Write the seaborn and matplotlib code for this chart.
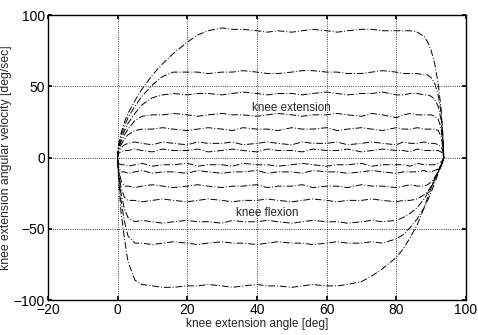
import numpy as np
import pandas as pd
import matplotlib
matplotlib.use("Agg")
import matplotlib.pyplot as plt
import seaborn as sns

# shared knee angle grid [deg], 0 -> full extension (~93.6)
angle = [0, 0.3, 1, 2, 3, 5, 7, 10, 13, 16, 20, 23, 26, 30, 33, 36, 40, 43, 46, 50,
         53, 56, 60, 63, 66, 70, 73, 76, 80, 82, 84, 86, 88, 89, 90, 91, 92, 92.8, 93.3, 93.6]

# extension phase velocities [deg/sec]
ext_90 = [0, 9, 17, 25, 31, 40, 48, 58, 66, 73, 81, 86, 89, 91, 90, 90, 89, 88, 89, 88,
          89, 90, 89, 88, 89, 90, 90, 89, 89, 89, 89, 88, 85, 81, 75, 66, 52, 35, 18, 0]
ext_60 = [0, 8, 15, 22, 28, 36, 43, 51, 57, 60, 60, 60, 59, 60, 60, 61, 60, 59, 59, 60,
          61, 61, 60, 60, 59, 59, 60, 61, 60, 59, 59, 59, 58, 58, 56, 52, 44, 32, 17, 0]
ext_45 = [0, 7, 13, 19, 24, 31, 37, 42, 44, 45, 44, 45, 45, 44, 45, 46, 45, 44, 45, 45,
          44, 45, 46, 45, 44, 45, 45, 46, 44, 44, 45, 45, 44, 44, 43, 41, 36, 27, 14, 0]
ext_30 = [0, 6, 11, 16, 20, 26, 29, 30, 30, 31, 30, 29, 30, 31, 30, 30, 29, 30, 31, 30,
          29, 30, 30, 31, 30, 29, 31, 30, 28, 30, 31, 30, 30, 30, 30, 29, 27, 21, 11, 0]
ext_20 = [0, 5, 9, 13, 16, 19, 20, 20, 21, 20, 19, 20, 21, 20, 19, 21, 20, 20, 19, 21,
          20, 20, 21, 19, 20, 21, 20, 19, 21, 20, 20, 21, 20, 20, 20, 20, 19, 15, 8, 0]
ext_10 = [0, 4, 7, 9, 10, 11, 10, 9, 11, 10, 9, 11, 10, 10, 11, 9, 10, 11, 10, 9,
          11, 10, 10, 11, 9, 10, 11, 10, 9, 11, 10, 10, 11, 10, 10, 10, 9, 8, 5, 0]
ext_5 = [0, 3, 4, 5, 5, 6, 5, 4, 6, 5, 5, 6, 4, 5, 6, 5, 4, 6, 5, 5,
         4, 6, 5, 5, 6, 4, 5, 6, 5, 5, 4, 6, 5, 5, 5, 5, 5, 4, 3, 0]

# flexion phase velocities [deg/sec] on the same angle grid
flex_90 = [0, -15, -38, -57, -73, -86, -89, -90, -91, -91, -90, -90, -89, -90, -91, -90, -89, -90, -90, -91,
           -90, -89, -90, -90, -89, -87, -83, -78, -70, -64, -56, -47, -35, -28, -21, -15, -9, -5, -2, 0]
flex_60 = [0, -12, -30, -45, -55, -60, -60, -61, -60, -59, -60, -61, -60, -59, -60, -60, -61, -60, -59, -60,
           -60, -61, -60, -59, -60, -60, -59, -60, -57, -54, -49, -43, -35, -30, -24, -18, -11, -6, -3, 0]
flex_45 = [0, -10, -25, -36, -42, -45, -44, -45, -46, -45, -44, -45, -45, -46, -44, -45, -45, -44, -45, -46,
           -45, -44, -45, -45, -46, -45, -44, -45, -44, -42, -39, -35, -29, -25, -21, -16, -10, -6, -3, 0]
flex_30 = [0, -9, -21, -28, -30, -30, -31, -30, -29, -30, -31, -30, -29, -30, -31, -30, -30, -29, -30, -31,
           -30, -29, -30, -31, -30, -30, -29, -30, -31, -30, -30, -29, -26, -24, -20, -15, -10, -6, -3, 0]
flex_20 = [0, -8, -16, -20, -20, -21, -20, -19, -20, -21, -20, -19, -20, -21, -20, -20, -19, -21, -20, -20,
           -19, -21, -20, -20, -21, -19, -20, -20, -21, -20, -19, -20, -20, -19, -17, -14, -10, -6, -3, 0]
flex_10 = [0, -6, -10, -10, -11, -10, -9, -11, -10, -10, -11, -9, -10, -11, -10, -10, -9, -11, -10, -10,
           -11, -9, -10, -10, -11, -10, -9, -10, -11, -10, -10, -10, -9, -10, -10, -9, -8, -5, -3, 0]
flex_5 = [0, -4, -5, -5, -6, -5, -4, -6, -5, -5, -4, -6, -5, -5, -6, -4, -5, -5, -6, -5,
          -4, -5, -6, -5, -5, -4, -6, -5, -5, -5, -6, -4, -5, -5, -5, -5, -4, -3, -2, 0]

speeds = [90, 60, 45, 30, 20, 10, 5]
ext_curves = [ext_90, ext_60, ext_45, ext_30, ext_20, ext_10, ext_5]
flex_curves = [flex_90, flex_60, flex_45, flex_30, flex_20, flex_10, flex_5]

# one closed loop per trial: extension out, flexion back
rows = []
for spd, ext, flex in zip(speeds, ext_curves, flex_curves):
    assert len(ext) == len(angle) and len(flex) == len(angle)
    order = 0
    for a, v in zip(angle, ext):
        rows.append((spd, order, a, v)); order += 1
    for a, v in zip(angle[::-1], flex[::-1]):
        rows.append((spd, order, a, v)); order += 1
df = pd.DataFrame(rows, columns=["trial", "order", "angle", "velocity"])

sns.set_theme(style="white")
plt.rcParams["font.family"] = ["Liberation Sans", "DejaVu Sans"]

fig = plt.figure(figsize=(4.78, 3.35), dpi=100)
ax = fig.add_axes([0.100, 0.104, 0.875, 0.851])

sns.lineplot(data=df, x="angle", y="velocity", units="trial", estimator=None,
             sort=False, color="black", linewidth=0.7, ax=ax,
             linestyle=(0, (7, 2, 1, 2)))

ax.set_xlim(-20, 100)
ax.set_ylim(-100, 100)
ax.set_xticks([-20, 0, 20, 40, 60, 80, 100])
ax.set_yticks([-100, -50, 0, 50, 100])
ax.grid(True, linestyle=":", color="black", linewidth=0.6)
ax.tick_params(direction="in", length=3, labelsize=10, colors="black",
               top=True, right=True, bottom=True, left=True, pad=2)
for s in ax.spines.values():
    s.set_color("black")
    s.set_linewidth(1.0)

ax.set_xlabel("knee extension angle [deg]", fontsize=8.6, labelpad=1)
ax.set_ylabel("knee extension angular velocity [deg/sec]", fontsize=8.8, labelpad=1)

ax.text(38.5, 35, "knee extension", fontsize=8.4, ha="left", va="center")
ax.text(34, -39, "knee flexion", fontsize=8.4, ha="left", va="center")

fig.savefig("out.png", dpi=100)
